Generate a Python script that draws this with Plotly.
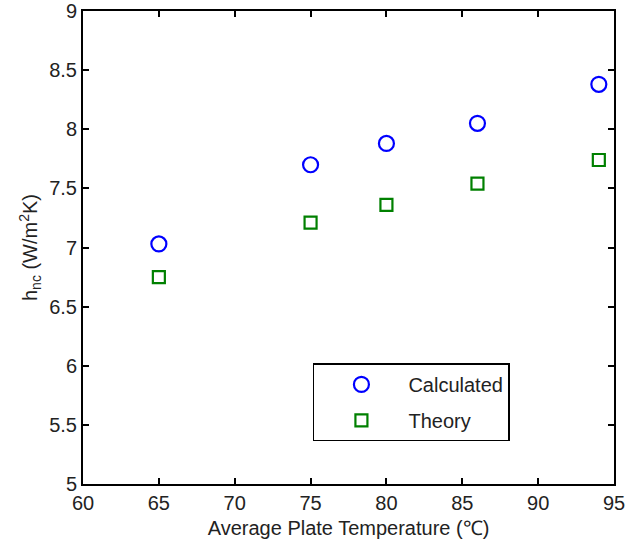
import plotly.graph_objects as go

temps = [65, 75, 80, 86, 94]
calculated = [7.03, 7.70, 7.88, 8.05, 8.38]
theory = [6.75, 7.21, 7.36, 7.54, 7.74]
x_ticks = [60, 65, 70, 75, 80, 85, 90, 95]
y_ticks = [5, 5.5, 6, 6.5, 7, 7.5, 8, 8.5, 9]

FONT = "Liberation Sans, Arial, Helvetica, sans-serif"

fig = go.Figure()
fig.add_trace(go.Scatter(
    x=temps, y=calculated, mode="markers", name="Calculated", legendgroup="a",
    marker=dict(symbol="circle-open", size=15, color="#0000ff", line=dict(width=2.2, color="#0000ff")),
))
fig.add_trace(go.Scatter(
    x=temps, y=theory, mode="markers", name="Theory", legendgroup="b",
    marker=dict(symbol="square-open", size=12, color="#008000", line=dict(width=2.2, color="#008000")),
))

axis_common = dict(
    showline=True, linecolor="black", linewidth=2, mirror="ticks",
    ticks="inside", ticklen=6, tickwidth=2, tickcolor="black",
    showgrid=False, zeroline=False, automargin=False,
    ticklabeloverflow="allow",
    tickfont=dict(family=FONT, size=20, color="#222222"),
)

fig.update_xaxes(range=[60, 95], tickvals=x_ticks, ticktext=[str(v) for v in x_ticks],
                 title=dict(text="Average Plate Temperature (\u2103)", font=dict(family=FONT, size=20, color="#222222"), standoff=8),
                 **axis_common)
fig.update_yaxes(range=[5, 9], tickvals=y_ticks, ticktext=[("%g" % v) for v in y_ticks],
                 title=dict(text="h<sub>nc</sub> (W/m<sup>2</sup>K)", font=dict(family=FONT, size=20, color="#222222"), standoff=6),
                 **axis_common)

fig.update_layout(
    width=626, height=554,
    margin=dict(l=83, r=12, t=11, b=70),
    paper_bgcolor="white", plot_bgcolor="white",
    legend=dict(
        x=0.433, y=0.255, xanchor="left", yanchor="top",
        bgcolor="white", bordercolor="black", borderwidth=1.5,
        font=dict(family=FONT, size=20, color="#222222"),
        itemwidth=84, tracegroupgap=7,
    ),
)

fig.write_html("out.html")
